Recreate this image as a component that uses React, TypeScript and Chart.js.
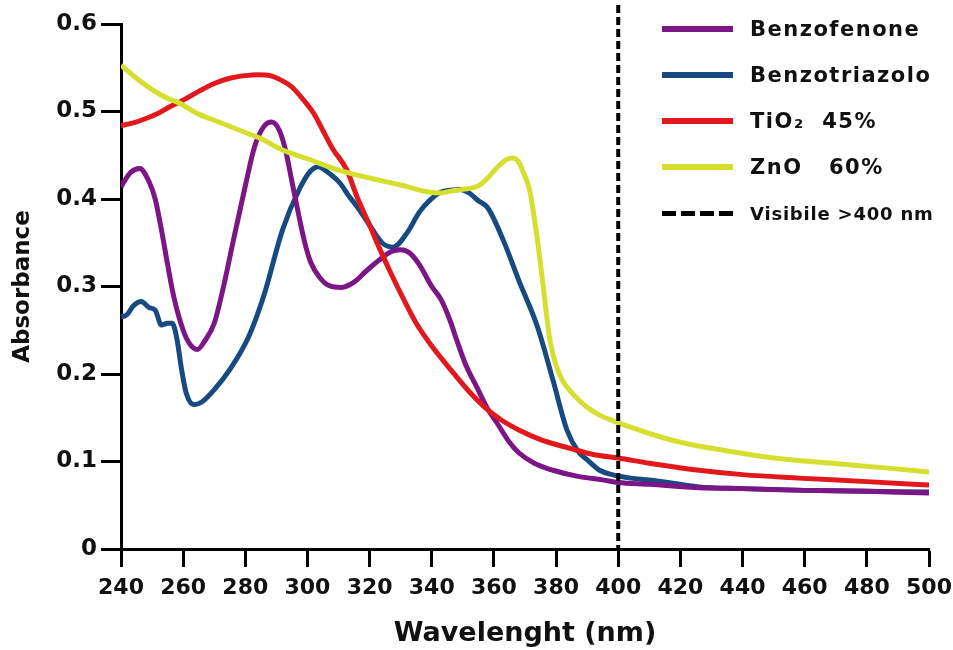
import React, { useEffect, useRef } from "react";
import { Chart, registerables } from "chart.js";

Chart.register(...registerables);

// ---- data ----
const benzofenoneNm = [240, 243, 246, 249, 251, 253, 255, 257, 260, 262, 264.5, 267, 270, 273, 276, 280, 283, 286, 288.5, 291, 293, 295, 297, 299, 301, 304, 307, 311, 315, 319, 323, 327, 330, 333, 336, 340, 343, 346, 348, 351, 354.5, 358, 361, 365, 368, 373, 379, 387, 395, 400, 410, 426, 440, 460, 480, 500];
const benzofenoneAbs = [0.414, 0.43, 0.435, 0.42, 0.4, 0.365, 0.325, 0.288, 0.25, 0.235, 0.228, 0.238, 0.258, 0.3, 0.35, 0.415, 0.46, 0.483, 0.488, 0.478, 0.455, 0.42, 0.385, 0.352, 0.328, 0.31, 0.301, 0.299, 0.305, 0.318, 0.33, 0.34, 0.342, 0.338, 0.325, 0.3, 0.285, 0.26, 0.239, 0.21, 0.185, 0.16, 0.144, 0.122, 0.11, 0.098, 0.09, 0.083, 0.079, 0.076, 0.074, 0.07, 0.069, 0.067, 0.066, 0.064];

const benzotriazoloNm = [240, 242, 244, 246.5, 249, 251, 253, 255, 256.5, 258, 259.5, 261, 263.5, 266, 270, 275, 281, 286, 292, 297.5, 301, 303.5, 306, 310.5, 313, 316, 320, 324, 327.5, 332, 336, 339.5, 343, 346, 349, 352, 355, 358, 363, 368, 374, 379, 383.5, 387, 390, 394, 398, 404, 410, 426, 440, 460, 480, 500];
const benzotriazoloAbs = [0.265, 0.268, 0.278, 0.283, 0.276, 0.273, 0.256, 0.258, 0.258, 0.24, 0.205, 0.178, 0.165, 0.168, 0.182, 0.205, 0.242, 0.29, 0.365, 0.412, 0.432, 0.437, 0.432, 0.418, 0.405, 0.391, 0.37, 0.35, 0.345, 0.361, 0.385, 0.399, 0.408, 0.41, 0.411, 0.407, 0.398, 0.39, 0.353, 0.307, 0.254, 0.193, 0.136, 0.112, 0.102, 0.09, 0.085, 0.081, 0.079, 0.071, 0.069, 0.067, 0.066, 0.065];

const tio2Nm = [240, 244, 248, 252, 256, 260, 265, 270, 275, 280, 284, 288, 292, 295, 299, 302, 305, 308, 312.7, 316, 320, 323, 327, 331, 335, 340, 347, 352, 358, 363, 368, 375, 384.5, 392, 400, 410, 426, 440, 458, 480, 500];
const tio2Abs = [0.484, 0.487, 0.492, 0.498, 0.506, 0.513, 0.523, 0.532, 0.538, 0.541, 0.542, 0.541, 0.535, 0.528, 0.512, 0.498, 0.478, 0.458, 0.433, 0.402, 0.37, 0.345, 0.314, 0.285, 0.258, 0.232, 0.201, 0.18, 0.159, 0.146, 0.136, 0.125, 0.115, 0.108, 0.104, 0.098, 0.09, 0.085, 0.081, 0.077, 0.073];

const znoNm = [240, 245, 250, 255, 258, 265, 270, 280, 285, 292, 300, 310, 320, 330, 339, 343, 346, 350, 355, 358, 361, 364, 366, 368, 369.5, 371.5, 374, 376, 378, 380, 382, 386, 390, 394, 398, 405, 410, 420, 437, 450, 469, 485, 500];
const znoAbs = [0.553, 0.538, 0.525, 0.515, 0.511, 0.497, 0.49, 0.476, 0.469, 0.456, 0.446, 0.433, 0.424, 0.416, 0.408, 0.407, 0.409, 0.411, 0.415, 0.424, 0.436, 0.445, 0.447, 0.442, 0.43, 0.41, 0.353, 0.296, 0.239, 0.21, 0.193, 0.175, 0.162, 0.153, 0.147, 0.138, 0.132, 0.122, 0.111, 0.104, 0.098, 0.093, 0.088];

const visibleLimitNm = 400;

const seriesLabels = ["Benzofenone", "Benzotriazolo", "TiO\u2082  45%", "ZnO   60%"];
const seriesColors = ["#7c1686", "#174a80", "#e2191c", "#d5df30"];
const visibleLabel = "Visibile >400 nm";

const xMin = 240;
const xMax = 500;
const xStep = 20;
const yMin = 0;
const yMax = 0.6;
const yStep = 0.1;

const xTitle = "Wavelenght (nm)";
const yTitle = "Absorbance";

const FONT = "'DejaVu Sans', Verdana, sans-serif";

function toPoints(xs: number[], ys: number[]) {
  return xs.map((x, i) => ({ x, y: ys[i] }));
}

const visibleLinePlugin = {
  id: "visibleLine",
  afterDatasetsDraw(chart: any) {
    const { ctx, chartArea, scales } = chart;
    const px = scales.x.getPixelForValue(visibleLimitNm);
    ctx.save();
    ctx.strokeStyle = "#000";
    ctx.lineWidth = 4;
    ctx.setLineDash([8, 4]);
    ctx.beginPath();
    ctx.moveTo(px, 5);
    ctx.lineTo(px, chartArea.bottom);
    ctx.stroke();
    ctx.restore();
  },
};

export default function App() {
  const canvasRef = useRef<HTMLCanvasElement | null>(null);

  useEffect(() => {
    if (!canvasRef.current) return;
    const series = [
      toPoints(benzofenoneNm, benzofenoneAbs),
      toPoints(benzotriazoloNm, benzotriazoloAbs),
      toPoints(tio2Nm, tio2Abs),
      toPoints(znoNm, znoAbs),
    ];
    const drawOrder = [2, 3, 1, 0];
    const chart = new Chart(canvasRef.current, {
      type: "line",
      data: {
        datasets: series.map((data, i) => ({
          label: seriesLabels[i],
          data,
          borderColor: seriesColors[i],
          backgroundColor: seriesColors[i],
          borderWidth: 5,
          pointRadius: 0,
          fill: false,
          cubicInterpolationMode: "monotone" as const,
          order: drawOrder[i],
        })),
      },
      options: {
        animation: false,
        responsive: true,
        maintainAspectRatio: false,
        layout: { padding: { top: 24, right: 24, left: 0, bottom: 0 } },
        plugins: {
          legend: { display: false },
          tooltip: { enabled: false },
        },
        scales: {
          x: {
            type: "linear",
            min: xMin,
            max: xMax,
            afterFit: (scale: any) => {
              scale.height = 101;
              scale.paddingLeft = 0;
              scale.paddingRight = 0;
            },
            ticks: {
              stepSize: xStep,
              color: "#111",
              padding: 8,
              maxRotation: 0,
              autoSkip: false,
              font: { family: FONT, size: 22, weight: "bold" },
            },
            grid: {
              display: true,
              drawOnChartArea: false,
              drawTicks: true,
              tickLength: 18,
              tickWidth: 3,
              tickColor: "#000",
            },
            border: { display: true, color: "#000", width: 3 },
            title: {
              display: true,
              text: xTitle,
              color: "#111",
              font: { family: FONT, size: 27, weight: "bold" },
              padding: { top: 0, bottom: 0 },
            },
          },
          y: {
            type: "linear",
            min: yMin,
            max: yMax,
            afterFit: (scale: any) => {
              scale.width = 121;
              scale.paddingTop = 0;
              scale.paddingBottom = 0;
            },
            ticks: {
              stepSize: yStep,
              color: "#111",
              padding: 4,
              font: { family: FONT, size: 23, weight: "bold" },
            },
            grid: {
              display: true,
              drawOnChartArea: false,
              drawTicks: true,
              tickLength: 20,
              tickWidth: 3,
              tickColor: "#000",
            },
            border: { display: true, color: "#000", width: 3 },
            title: {
              display: true,
              text: yTitle,
              color: "#111",
              font: { family: FONT, size: 23, weight: "bold" },
              padding: { top: 9, bottom: 0 },
            },
          },
        },
      },
      plugins: [visibleLinePlugin],
    });
    return () => chart.destroy();
  }, []);

  const rowStyle: React.CSSProperties = {
    display: "flex",
    alignItems: "center",
    height: 46,
  };
  const textStyle: React.CSSProperties = {
    fontFamily: FONT,
    fontWeight: "bold",
    fontSize: 21,
    color: "#111",
    whiteSpace: "pre",
    letterSpacing: 1.5,
  };

  return (
    <div style={{ position: "absolute", left: 0, top: 0, width: 953, height: 650, background: "#fff" }}>
      <canvas ref={canvasRef} />
      <div style={{ position: "absolute", left: 662, top: 6 }}>
        {seriesLabels.map((lab, i) => (
          <div key={lab} style={rowStyle}>
            <span style={{ display: "inline-block", width: 71, height: 6, background: seriesColors[i], marginRight: 17 }} />
            <span style={textStyle}>{lab}</span>
          </div>
        ))}
        <div style={rowStyle}>
          <span
            style={{
              display: "inline-block",
              width: 71,
              height: 5,
              marginRight: 17,
              backgroundImage: "repeating-linear-gradient(to right, #000 0 14px, transparent 14px 19px)",
            }}
          />
          <span style={{ ...textStyle, fontSize: 18, letterSpacing: 0.8 }}>{visibleLabel}</span>
        </div>
      </div>
    </div>
  );
}
